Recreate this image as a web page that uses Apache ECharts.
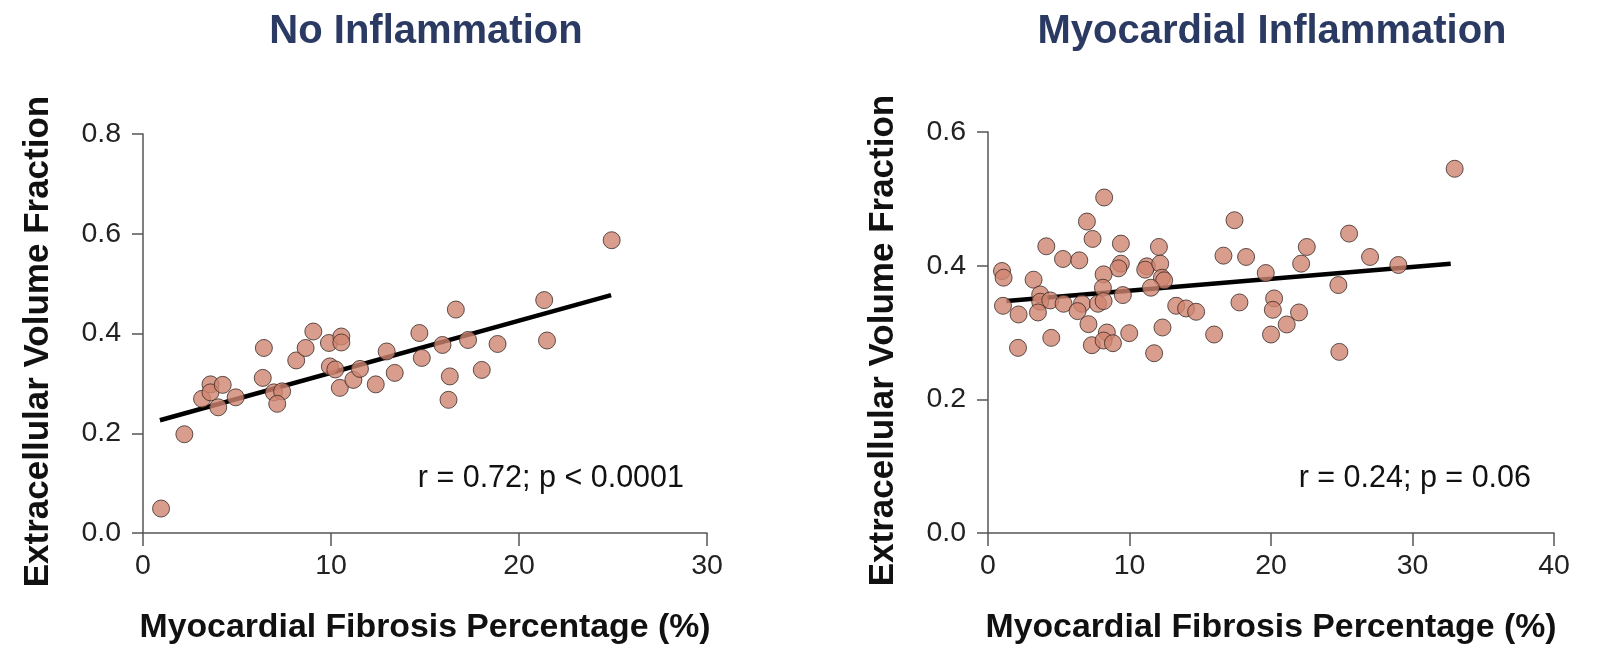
<!DOCTYPE html>
<html>
<head>
<meta charset="utf-8">
<script src="https://cdn.jsdelivr.net/npm/echarts@6/dist/echarts.min.js"></script>
<style>
html,body{margin:0;padding:0;background:#fff;}
#chart{width:1599px;height:650px;}
</style>
</head>
<body>
<div id="chart"></div>
<script>
// ---- Data ----
const titles = ['No Inflammation', 'Myocardial Inflammation'];
const xAxisName = 'Myocardial Fibrosis Percentage (%)';
const yAxisName = 'Extracellular Volume Fraction';
const statsText = ['r = 0.72; p < 0.0001', 'r = 0.24; p = 0.06'];

const leftX = [0.96, 2.2, 3.14, 3.59, 3.59, 4.24, 4.0, 4.93, 6.43, 6.37, 6.96, 7.4, 7.14, 8.15, 8.65, 9.06, 9.89, 10.55, 10.55, 9.94, 10.23, 10.47, 11.19, 11.54, 12.38, 12.96, 13.39, 14.7, 14.83, 16.64, 21.34, 15.93, 17.29, 18.86, 21.49, 16.32, 18.02, 16.25, 24.93];
const leftY = [0.049, 0.198, 0.269, 0.298, 0.282, 0.297, 0.252, 0.272, 0.371, 0.311, 0.282, 0.284, 0.259, 0.346, 0.371, 0.404, 0.381, 0.394, 0.382, 0.334, 0.328, 0.291, 0.307, 0.329, 0.298, 0.364, 0.321, 0.401, 0.351, 0.448, 0.467, 0.377, 0.387, 0.379, 0.386, 0.314, 0.327, 0.267, 0.587];
const leftFitX = [0.9, 24.9];
const leftFitY = [0.226, 0.477];

const rightX = [8.21, 6.99, 7.39, 4.12, 9.39, 12.08, 5.3, 6.45, 9.39, 9.22, 11.23, 11.11, 12.17, 0.99, 1.1, 3.22, 8.17, 12.29, 12.45, 8.12, 11.51, 9.53, 3.69, 3.69, 4.4, 5.34, 1.06, 6.64, 6.33, 7.77, 8.17, 2.16, 3.53, 13.3, 14.0, 14.71, 17.77, 17.42, 16.64, 18.24, 7.1, 12.33, 15.98, 9.98, 8.4, 4.47, 2.12, 7.34, 8.17, 8.83, 11.74, 32.98, 25.52, 22.53, 27.0, 29.0, 22.13, 19.63, 24.76, 20.22, 20.13, 21.98, 21.11, 20.0, 24.83];
const rightY = [0.502, 0.466, 0.440, 0.429, 0.433, 0.428, 0.410, 0.408, 0.403, 0.396, 0.399, 0.394, 0.403, 0.392, 0.382, 0.379, 0.387, 0.382, 0.378, 0.367, 0.367, 0.356, 0.357, 0.346, 0.348, 0.343, 0.340, 0.343, 0.332, 0.343, 0.347, 0.327, 0.330, 0.340, 0.336, 0.331, 0.345, 0.468, 0.415, 0.413, 0.3125, 0.3075, 0.297, 0.299, 0.300, 0.292, 0.277, 0.281, 0.288, 0.284, 0.269, 0.545, 0.448, 0.428, 0.413, 0.401, 0.403, 0.389, 0.371, 0.351, 0.334, 0.330, 0.312, 0.297, 0.271];
const rightFitX = [1.3, 32.7];
const rightFitY = [0.347, 0.403];

const xMax = [30, 40];
const yMax = [0.8, 0.6];

// ---- Chart ----
const FONT = '"Liberation Sans", Arial, Helvetica, sans-serif';
const zip = (a, b) => a.map((v, i) => [v, b[i]]);
const chart = echarts.init(document.getElementById('chart'), null, {renderer: 'canvas'});

const grids = [
  {left: 143, top: 134, width: 564, height: 401},
  {left: 988, top: 132, width: 566, height: 403}
];

function xAxisCfg(i) {
  return {
    type: 'value', gridIndex: i, min: 0, max: xMax[i], interval: 10,
    name: xAxisName, nameLocation: 'middle', nameGap: 78,
    nameTextStyle: {fontFamily: FONT, fontSize: 33.8, fontWeight: 'bold', color: '#111'},
    axisLine: {show: true, onZero: false, lineStyle: {color: '#555', width: 1.5}},
    axisTick: {show: true, inside: false, length: 13, lineStyle: {color: '#555', width: 1.5}},
    axisLabel: {fontFamily: FONT, fontSize: 28.5, color: '#222', margin: 19},
    splitLine: {show: false}
  };
}
function yAxisCfg(i) {
  return {
    type: 'value', gridIndex: i, min: 0, max: yMax[i], interval: 0.2,
    name: yAxisName, nameLocation: 'middle', nameGap: 87,
    nameTextStyle: {fontFamily: FONT, fontSize: 35, fontWeight: 'bold', color: '#111',
      padding: [0, 16, 0, 0]},
    axisLine: {show: true, onZero: false, lineStyle: {color: '#555', width: 1.5}},
    axisTick: {show: true, inside: false, length: 11, lineStyle: {color: '#555', width: 1.5}},
    axisLabel: {fontFamily: FONT, fontSize: 28.5, color: '#222', margin: 22,
      formatter: v => v.toFixed(1)},
    splitLine: {show: false}
  };
}

function scatterSeries(i, xs, ys) {
  return {
    type: 'scatter', xAxisIndex: i, yAxisIndex: i, z: 3,
    data: zip(xs, ys), symbol: 'circle', symbolSize: 17,
    itemStyle: {color: '#cf8570', borderColor: '#3a2a25', borderWidth: 1},
    emphasis: {disabled: true}
  };
}
function fitSeries(i, xs, ys) {
  return {
    type: 'line', xAxisIndex: i, yAxisIndex: i, z: 2,
    data: zip(xs, ys), symbol: 'none',
    lineStyle: {color: '#000', width: 4.5}
  };
}

chart.setOption({
  animation: false,
  backgroundColor: '#fff',
  title: [
    {text: titles[0], left: 421, top: 7, textAlign: 'center',
     textStyle: {fontFamily: FONT, fontSize: 40, fontWeight: 'bold', color: '#2a3a62'}},
    {text: titles[1], left: 1267, top: 7, textAlign: 'center',
     textStyle: {fontFamily: FONT, fontSize: 40, fontWeight: 'bold', color: '#2a3a62'}}
  ],
  grid: grids,
  xAxis: [xAxisCfg(0), xAxisCfg(1)],
  yAxis: [yAxisCfg(0), yAxisCfg(1)],
  graphic: [
    {type: 'text', right: 1599 - 684, top: 463,
     style: {text: statsText[0], fontFamily: FONT, fontSize: 30.5, fill: '#111'}},
    {type: 'text', right: 1599 - 1531, top: 463,
     style: {text: statsText[1], fontFamily: FONT, fontSize: 30.5, fill: '#111'}}
  ],
  series: [
    fitSeries(0, leftFitX, leftFitY),
    scatterSeries(0, leftX, leftY),
    fitSeries(1, rightFitX, rightFitY),
    scatterSeries(1, rightX, rightY)
  ]
});
</script>
</body>
</html>
